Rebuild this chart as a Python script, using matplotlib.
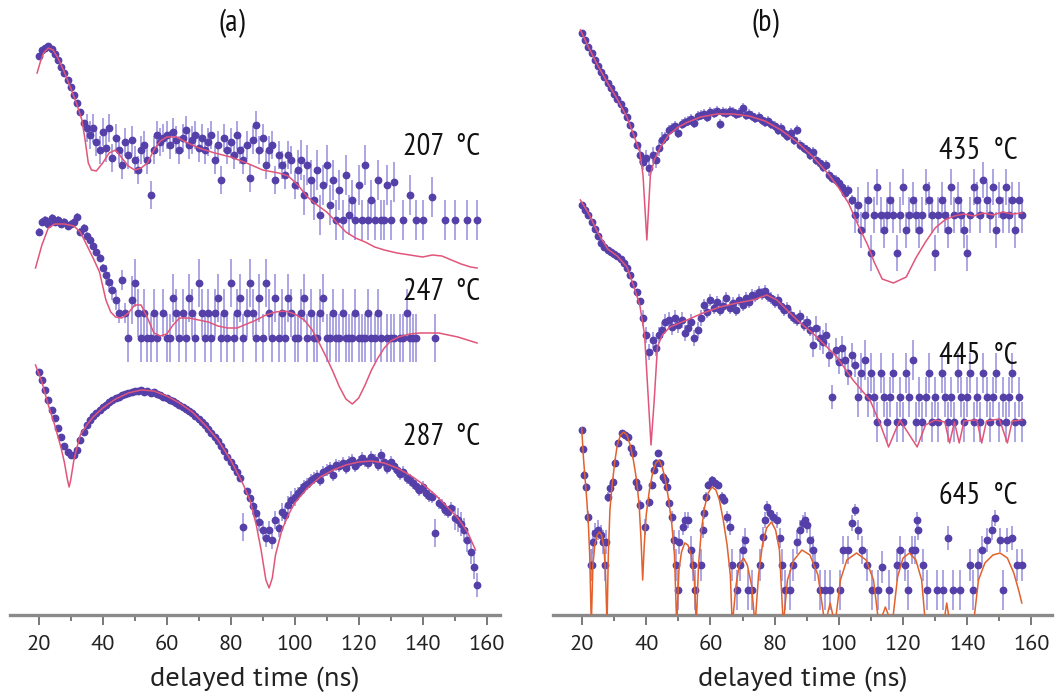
import numpy as np
import matplotlib
matplotlib.use("Agg")
from matplotlib import pyplot as plt
from matplotlib.ticker import MultipleLocator

nan = np.nan

# time grid of the dense spectra (ns); values are log-intensity heights (arb. units, offset per curve)
t_grid = np.arange(20, 158)

# ---- panel (a) ----
h_207 = [559, 565, 567, 569, 566, 561, 555, 548, 542, 535,
         528, 520, 512, 503, 492, 487, 480, 487, 473, 465,
         483, 467, 487, 457, 477, 465, 450, 473, 460, 475,
         455, 445, 465, 470, 455, 420, 465, 480, 473, 477,
         480, 470, 483, 475, 465, 477, 485, 470, 475, 480,
         467, 477, 465, 473, 480, 455, 470, 435, 477, 465,
         473, 460, 480, 465, 455, 470, 437, 475, 490, 465,
         477, 450, 465, 470, 435, 460, 450, 440, 460, 455,
         430, 445, 455, 420, 450, 435, 415, 445, 400, 430,
         450, 410, 435, 395, 425, 395, 440, 400, 415, 395,
         430, 395, 450, 395, 415, 395, 435, 395, 395, 430,
         395, 433, nan, nan, 395, nan, 420, nan, 395, nan,
         395, nan, nan, 418, nan, nan, nan, 395, nan, nan,
         395, nan, nan, nan, 395, nan, nan, 395]
err_207 = [3] * 15 + [14] * 66 + [20] * 57
fit_t_207 = [19.5, 20.5, 21.5, 23, 24.5, 26, 28, 30, 32, 33.5, 34.5, 35.5, 36.5, 38, 40, 42, 44,
             46, 48, 50, 52, 54, 56, 58, 60, 63, 66, 70, 75, 80, 85, 90, 95, 98, 101, 104,
             107, 110, 113, 116, 119, 122, 125, 128, 132, 136, 140, 143, 146, 149, 152, 155, 157]
fit_h_207 = [542, 553, 562, 567, 565, 557, 543, 527, 510, 495, 475, 452, 445, 444, 452, 462, 465,
             457, 449, 445, 447, 452, 465, 474, 478, 478, 473, 467, 462, 458, 452, 445, 442, 439, 430, 418,
             410, 403, 393, 383, 377, 373, 368, 365, 362, 360, 358, 360, 359, 355, 351, 348, 347]

h_247 = [383, 393, 395, 391, 397, 393, 395, 391, 393, 389,
         391, 393, 398, 383, 387, 379, 375, 369, 363, 357,
         347, 340, 333, 325, 315, 302, 335, 302, 277, 315,
         332, 302, 277, 302, 277, 277, 302, 277, nan, 302,
         277, 277, 317, 302, 277, 302, 277, 317, 302, 277,
         332, 302, 277, 302, 277, 302, 317, 277, 302, 277,
         332, 277, 302, 317, 277, 302, 332, 302, 277, 317,
         277, 332, 302, 277, 317, 277, 302, 277, 317, 302,
         277, 277, 302, 317, 277, 302, 277, 277, 302, 317,
         277, 277, 302, 277, 277, 302, 277, 277, 277, 302,
         277, 277, 277, 302, 277, 277, 302, 277, nan, 277,
         277, 277, nan, 277, 277, 302, 277, 277, 277, nan,
         nan, nan, nan, nan, 277, nan, nan, nan, nan, nan,
         nan, nan, nan, nan, nan, nan, nan, nan]
err_247 = [4] * 21 + [10] * 7 + [24] * 110
fit_t_247 = [19, 21, 23, 25, 28, 31, 33, 35, 37, 39, 41, 42.5, 44, 46, 48, 50, 52, 54, 56, 58, 60,
             62, 64, 67, 70, 73, 76, 79, 82, 85, 88, 91, 94, 97, 100, 103, 105.5, 107.5, 110, 112,
             114, 116, 118, 120, 122, 124, 126, 128, 130, 132.5, 136, 139, 145, 151, 157]
fit_h_247 = [347, 370, 387, 391, 391, 389, 383, 370, 357, 343, 315, 303, 298, 297, 302, 310, 310, 297, 282, 279, 281,
             290, 297, 297, 295, 293, 289, 287, 287, 291, 295, 300, 303, 304, 301, 295, 285, 273, 257, 243,
             228, 216, 211, 217, 230, 245, 257, 267, 274, 278, 281, 282, 282, 278, 272]

h_287 = [243, 235, 225, 215, 205, 197, 187, 178, 169, 163,
         160, 160, 165, 175, 183, 190, 195, 199, 202, 205,
         208, 210, 213, 215, 217, 218, 220, 221, 222, 223,
         224, 224, 225, 223, 224, 222, 223, 221, 220, 218,
         217, 215, 214, 212, 210, 208, 206, 204, 202, 199,
         196, 193, 190, 186, 182, 178, 174, 169, 164, 158,
         153, 148, 143, 137, 88, 124, 117, 109, 102, 93,
         85, 77, 85, 75, 95, 87, 103, 100, 110, 115,
         118, 122, 125, 129, 131, 135, 137, 139, 135, 143,
         145, 147, 140, 150, 149, 152, 147, 153, 155, 149,
         153, 157, 154, 152, 158, 155, 150, 160, 153, 147,
         153, 149, 145, 141, 143, 137, 135, 132, 129, 125,
         128, 122, 119, 118, 82, 112, 110, 105, 103, 107,
         97, 95, 91, 85, 75, 63, 48, 30]
err_287 = [3] * 64 + [14] + [3] * 2 + [9] * 14 + [6] * 43 + [14] + [6] * 5 + [12] * 8
fit_t_287 = [19, 21, 23, 25, 27, 28, 29, 29.5, 30, 31, 32, 33, 35, 37, 40, 44, 48, 52, 56, 60, 64, 68,
             72, 76, 80, 84, 86, 88, 89.5, 91, 92, 93, 94, 96, 98, 100, 104, 108, 112, 116, 120, 124,
             128, 132, 136, 140, 144, 148, 151, 154, 156.5]
fit_h_287 = [250, 233, 210, 190, 167, 153, 135, 128, 135, 155, 168, 180, 190, 198, 207, 216, 222, 225, 224, 219, 212, 203,
             190, 175, 155, 130, 115, 90, 65, 35, 27, 37, 60, 85, 100, 112, 127, 138, 145, 150, 153, 154,
             152, 147, 140, 131, 120, 107, 97, 83, 65]

# ---- panel (b) ----
h_435 = [582, 575, 568, 562, 555, 549, 543, 538, 532, 527,
         521, 516, 511, 505, 498, 490, 481, 470, 460, 453,
         457, 447, 460, 455, 467, 475, 478, 485, 487, 489,
         482, 491, 493, 494, 496, 492, 499, 500, 501, 498,
         503, 502, 504, 491, 503, 502, 504, 503, 501, 502,
         507, 500, 501, 499, 497, 498, 495, 493, 494, 491,
         489, 485, 487, 482, 479, 482, 475, 485, 470, 467,
         465, 460, 463, 455, 452, 448, 450, 440, 437, 435,
         432, 428, 422, 425, 415, 400, 410, 385, 400, 415,
         362, 400, 428, 400, 385, 400, 415, 400, 362, 400,
         428, 385, 400, 415, 400, 385, 400, 428, 415, 400,
         362, 400, 415, 400, 385, 428, 400, 415, 400, 385,
         362, 400, 428, 415, 400, 435, 415, 400, 428, 385,
         415, 400, 428, 400, 415, 385, 415, 400]
err_435 = [3] * 18 + [8] * 8 + [5] * 59 + [18] * 53
fit_t_435 = [19.5, 22, 25, 28, 31, 34, 36, 38, 39, 40.2, 41.3, 42.5, 44.5, 47, 50, 53, 57, 62, 67, 72,
             77, 82, 87, 92, 97, 100, 103, 106, 109, 111, 113.5, 117, 121, 124, 127, 130, 133, 136,
             139, 142, 145, 148, 151, 154, 157]
fit_h_435 = [585, 568, 549, 532, 516, 498, 481, 463, 440, 375, 440, 455, 468, 480, 488, 493, 498, 501, 501, 499,
             494, 485, 473, 458, 440, 427, 412, 390, 370, 353, 336, 332, 338, 357, 373, 387, 395, 399,
             401, 399, 402, 400, 403, 401, 402]

h_445 = [410, 405, 400, 393, 386, 379, 372, 368, 365, 363,
         361, 359, 356, 352, 347, 340, 331, 323, 314, 297,
         280, 263, 275, 267, 280, 285, 293, 295, 288, 297,
         290, 295, 282, 287, 293, 277, 285, 297, 310, 303,
         315, 307, 313, 305, 309, 317, 307, 312, 305, 315,
         310, 317, 313, 320, 319, 323, 321, 324, 319, 317,
         313, 315, 309, 305, 307, 300, 297, 295, 299, 290,
         293, 285, 270, 287, 277, 273, 280, 260, 218, 265,
         253, 267, 255, 242, 260, 250, 218, 242, 255, 218,
         242, 218, 193, 242, 218, 193, 218, 242, 193, 218,
         193, 242, 218, 255, 193, 218, 193, 218, 242, 193,
         218, 193, 242, 218, 193, 218, 193, 242, 218, 193,
         218, 242, 193, 218, 193, 242, 218, 193, 218, 242,
         193, 218, 193, 218, 242, 193, 218, 193]
err_445 = [3] * 19 + [8] * 19 + [6] * 34 + [12] * 14 + [20] * 52
fit_t_445 = [19.5, 22, 25, 28, 31, 34, 36, 38, 39.5, 40.5, 41.5, 42.5, 43.5, 45, 47.4, 52.7, 57.7, 63,
             68.3, 73.3, 77.6, 80.7, 87, 93.2, 99.4, 104.4, 109.7, 113, 115.5, 119, 124.4, 127, 130,
             133, 134.5, 136, 137.5, 139, 143, 144.5, 146, 150, 152.5, 154, 157]
fit_h_445 = [415, 402, 382, 366, 359, 348, 330, 310, 280, 225, 170, 215, 268, 280, 288, 295, 302, 308,
             312, 315, 320, 315, 295, 278, 258, 235, 215, 190, 168, 195, 168, 190, 195,
             193, 172, 193, 172, 194, 195, 172, 194, 196, 172, 194, 195]

t_645 = [19.9, 20.2, 20.6, 21.2, 22.0, 22.7, 23.0, 23.3, 24.0, 25.1, 25.8, 26.6, 27.2, 27.5,
         28.2, 28.7, 29.6, 30.3, 31.3, 32.4, 33.4, 34.4, 35.3, 36.0, 36.8, 37.5, 38.1, 39.6,
         41.0, 41.7, 42.4, 43.1, 43.6, 44.3, 45.1, 45.9, 46.4, 47.2, 47.9, 48.7, 49.3, 49.8,
         50.3, 51.4, 52.1, 53.1, 53.9, 54.7, 55.3, 57.0, 57.6, 58.0, 58.6, 59.4, 60.4, 61.4,
         62.5, 63.5, 64.2, 65.1, 66.1, 66.8, 68.2, 69.2, 70.1, 70.8, 71.8, 72.9, 75.5, 76.3,
         77.0, 77.5, 78.6, 79.6, 80.6, 81.7, 82.2, 83.2, 84.8, 85.8, 86.9, 87.9, 88.9, 89.5,
         90.0, 91.0, 92.1, 92.6, 94.1, 95.7, 97.2, 100.4, 101.4, 103.0, 104.0, 105.0, 106.1,
         107.1, 108.7, 110.2, 112.3, 113.4, 115.5, 118.0, 119.1, 120.6, 121.7, 122.7, 123.7,
         124.5, 124.8, 126.3, 127.4, 130.5, 132.6, 134.1, 135.7, 137.8, 141.0, 141.9, 143.5,
         144.5, 146.1, 147.6, 148.7, 150.2, 151.0, 152.3, 153.9, 155.4, 157.0]
h_645 = [185, 166, 140, 128, 98, 50, 50, 73, 82, 85, 80, 73, 50, 73,
         118, 127, 133, 152, 172, 182, 180, 178, 167, 162, 133, 128, 110, 88,
         113, 130, 145, 152, 162, 152, 138, 135, 128, 112, 98, 75, 50, 25,
         73, 88, 95, 95, 65, 50, 25, 50, 85, 102, 118, 130, 135, 132,
         130, 118, 115, 98, 88, 50, 25, 50, 65, 75, 25, 25, 50, 78,
         95, 108, 102, 98, 95, 77, 50, 25, 25, 50, 73, 85, 92, 95,
         90, 75, 65, 50, 25, 25, 25, 25, 65, 65, 92, 105, 85,
         65, 50, 25, 25, 48, 25, 50, 65, 50, 25, 65, 65,
         95, 85, 50, 25, 25, 25, 77, 25, 25, 50, 25, 50,
         65, 75, 85, 97, 75, 25, 75, 77, 50, 50]
err_645 = [3, 3, 4, 4, 6, 16, 16, 12, 10, 10, 10, 12, 16, 12,
           5, 5, 4, 4, 3, 3, 3, 3, 3, 3, 4, 4, 5, 8,
           5, 4, 4, 4, 3, 4, 4, 4, 4, 5, 6, 10, 16, 20,
           12, 8, 8, 8, 14, 16, 20, 16, 8, 6, 5, 4, 4, 4,
           4, 5, 5, 6, 8, 16, 20, 16, 14, 12, 20, 20, 16, 10,
           8, 6, 6, 6, 8, 10, 16, 20, 20, 16, 12, 10, 8, 8,
           8, 12, 14, 16, 20, 20, 20, 20, 14, 14, 8, 6, 10,
           14, 16, 20, 20, 16, 20, 16, 14, 16, 20, 14, 14,
           8, 10, 16, 20, 20, 20, 12, 20, 20, 16, 20, 16,
           14, 12, 10, 8, 12, 20, 12, 12, 16, 16]
fit_t_645 = [19.9, 20.5, 21.0, 21.5, 22.0, 22.4, 22.9, 23.4, 24.0, 24.7, 25.4, 26.1, 26.8, 27.3, 27.8,
             28.2, 28.7, 29.4, 30.2, 31.0, 32.0, 33.0, 34.0, 35.0, 36.0, 37.0, 37.8, 38.4, 38.9, 39.4,
             40.0, 41.0, 42.0, 43.0, 44.0, 45.0, 46.0, 47.0, 48.0, 48.8, 49.5, 50.2, 51.0, 52.0, 53.0,
             54.0, 55.0, 55.6, 56.3, 57.2, 58.2, 59.3, 60.5, 61.7, 62.8, 64.0, 65.2, 66.2, 66.8, 68.0,
             69.0, 70.3, 71.5, 72.8, 73.9, 75.0, 76.2, 77.5, 79.0, 80.3, 81.5, 82.7, 84.0, 86.0, 88.5,
             91.0, 93.5, 95.7, 97.3, 98.8, 100.5, 102.5, 105.5, 108.5, 110.8, 112.5, 114.5, 116.6,
             118.3, 120.0, 122.0, 124.0, 125.8, 127.0, 132.6, 133.6, 134.7, 141.9, 143.5, 145.5,
             148.0, 150.2, 152.5, 154.5, 156.0, 157.0]
fit_h_645 = [187, 155, 135, 115, 90, 60, -10, 50, 70, 80, 83, 80, 68, 45, -10,
             60, 105, 130, 153, 170, 180, 183, 180, 170, 155, 135, 110, 75, 35, 70,
             100, 125, 142, 152, 155, 148, 135, 115, 90, 60, -10, 45, 63, 72, 70,
             60, 35, -10, 50, 85, 108, 122, 128, 125, 115, 95, 70, 40, -10, 30,
             50, 57, 50, 30, -10, 40, 70, 87, 93, 85, 65, -10, 35, 55, 65,
             60, 40, -10, 12, -10, 35, 55, 62, 55, 35, -10, 8, -10,
             38, 57, 62, 55, 35, -10, -10, 12, -10, -10, 35, 52,
             60, 62, 57, 42, 25, 12]

DOT = "#5440a8"
BAR = "#958ddb"
PINK = "#e2557a"
ORANGE = "#e2612c"
TICK_FONT = ["PT Sans", "DejaVu Sans"]
LABEL_FONT = ["PT Sans Narrow", "DejaVu Sans"]


def draw_spectrum(ax, t, h, err, fit_t, fit_h, fit_color):
    ax.errorbar(t, h, yerr=err, fmt="none", ecolor=BAR, elinewidth=1.1, capsize=0, zorder=2)
    ax.plot(t, h, "o", ms=4.6, color=DOT, mec=DOT, zorder=3)
    ax.plot(fit_t, fit_h, "-", color=fit_color, lw=1.1, zorder=4)


def setup_axis(ax, xmin, xmax):
    ax.set_xlim(xmin, xmax)
    ax.set_ylim(0, 615)
    ax.patch.set_alpha(0)
    for s in ["left", "right", "top"]:
        ax.spines[s].set_visible(False)
    ax.spines["bottom"].set_color("#8a8a8a")
    ax.spines["bottom"].set_linewidth(2.4)
    ax.set_yticks([])
    ax.xaxis.set_major_locator(MultipleLocator(20))
    ax.xaxis.set_minor_locator(MultipleLocator(10))
    ax.tick_params(axis="x", which="major", direction="out", length=7.2, width=1.1,
                   color="#555555", pad=7, labelsize=16)
    ax.tick_params(axis="x", which="minor", direction="out", length=4, width=1.1, color="#555555")
    for lab in ax.get_xticklabels():
        lab.set_family(TICK_FONT)
        lab.set_color("#222222")
    ax.set_xlabel("delayed time (ns)", fontsize=20.5, color="#222222", family=TICK_FONT)
    ax.xaxis.set_label_coords(0.5, -0.083)


fig = plt.figure(figsize=(10.59, 6.99), dpi=100)
ax_a = fig.add_axes([10 / 1059, 84 / 699, 490 / 1059, 615 / 699])
ax_b = fig.add_axes([553 / 1059, 84 / 699, 499 / 1059, 615 / 699])

setup_axis(ax_a, 11.03, 164.16)
setup_axis(ax_b, 10.97, 166.4)

draw_spectrum(ax_a, t_grid, h_207, err_207, fit_t_207, fit_h_207, PINK)
draw_spectrum(ax_a, t_grid, h_247, err_247, fit_t_247, fit_h_247, PINK)
draw_spectrum(ax_a, t_grid, h_287, err_287, fit_t_287, fit_h_287, PINK)
draw_spectrum(ax_b, t_grid, h_435, err_435, fit_t_435, fit_h_435, PINK)
draw_spectrum(ax_b, t_grid, h_445, err_445, fit_t_445, fit_h_445, PINK)
draw_spectrum(ax_b, t_645, h_645, err_645, fit_t_645, fit_h_645, ORANGE)

label_font = dict(fontsize=22, family=LABEL_FONT, color="#111111", ha="right", va="baseline")
ax_a.text(157.9, 460, "207  °C", **label_font)
ax_a.text(157.9, 315, "247  °C", **label_font)
ax_a.text(157.9, 170, "287  °C", **label_font)
ax_b.text(155.8, 456, "435  °C", **label_font)
ax_b.text(155.8, 251, "445  °C", **label_font)
ax_b.text(155.8, 111, "645  °C", **label_font)

fig.text(232 / 1059, 1 - 23 / 699, "(a)", fontsize=22, family=LABEL_FONT,
         ha="center", va="center", color="#111111")
fig.text(765 / 1059, 1 - 23 / 699, "(b)", fontsize=22, family=LABEL_FONT,
         ha="center", va="center", color="#111111")

fig.savefig("out.png", dpi=100)
